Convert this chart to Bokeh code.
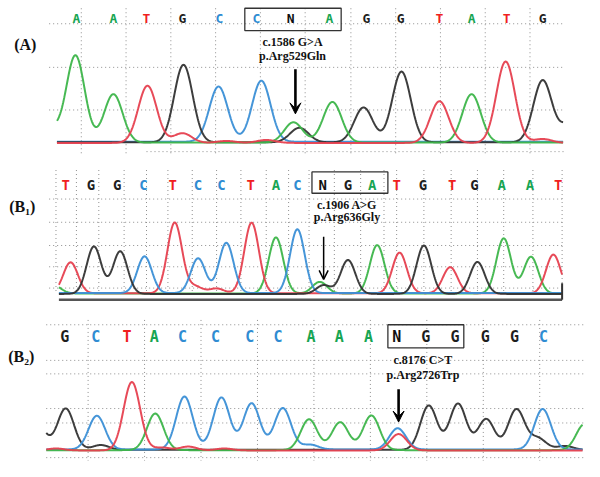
import numpy as np
from bokeh.plotting import figure
from bokeh.layouts import column
from bokeh.models import Range1d, Arrow, VeeHead, OpenHead
from bokeh.core.properties import value
from bokeh.embed import file_html
from bokeh.resources import INLINE

# ---------------- data ----------------
# Panel A
seq_a = "AATGCCNAGGTATG"
pos_a = [78, 116, 150, 187, 225, 263, 298, 338, 376, 411, 451, 484, 520, 557]
peaks_a_A = [(48, 18), (77, 90), (116, 50), (301, 21), (341, 42), (484, 50)]
peaks_a_C = [(224, 57), (268, 63)]
peaks_a_G = [(188, 80), (307, 15), (373, 36), (412, 73), (557, 64), (585, 20)]
peaks_a_T = [(151, 59), (187, 10), (232, 2), (273, 3), (451, 43), (519, 84), (557, 4)]
label_a = "(A)"
mut_a = ["c.1586 G>A", "p.Arg529Gln"]

# Panel B1
seq_b1 = "TGGCTCCTACNGATGTGAAT"
pos_b1 = [67, 93, 120, 147, 177, 203, 227, 257, 283, 305, 331, 357, 382, 407, 434, 464, 487, 515, 544, 573]
peaks_b1_A = [(55, 8), (283, 58), (328, 12), (387, 50), (517, 57), (545, 38)]
peaks_b1_C = [(148, 38), (203, 36), (232, 52), (305, 66)]
peaks_b1_G = [(96, 49), (123, 44), (332, 9), (357, 35), (435, 50), (490, 33)]
peaks_b1_T = [(72, 32), (179, 73), (200, 7), (222, 5), (258, 73), (410, 42), (462, 27), (568, 40)]
label_b1 = "(B\u2081)"
mut_b1 = ["c.1906 A>G", "p.Arg636Gly"]

# Panel B2
seq_b2 = "GCTACCCCAAANGGGGC"
pos_b2 = [66, 98, 130, 158, 187, 221, 256, 285, 319, 348, 378, 407, 437, 467, 498, 528, 558]
peaks_b2_A = [(159, 38), (317, 32), (349, 29), (381, 36), (600, 27)]
peaks_b2_C = [(99, 35), (189, 55), (227, 54), (258, 48), (290, 43), (318, 5), (408, 22), (557, 42)]
peaks_b2_G = [(38, 26), (67, 43), (103, 5), (440, 46), (470, 48), (499, 32), (530, 42), (552, 12), (580, 4)]
peaks_b2_T = [(57, 2), (135, 71), (166, 3), (193, 4), (230, 2), (409, 17)]
label_b2 = "(B\u2082)"
mut_b2 = ["c.8176 C>T", "p.Arg2726Trp"]

# ---------------- styling / layout ----------------
TRACE = {"A": "#3db54a", "C": "#3b8fd6", "G": "#333333", "T": "#e6404f"}
LETTER = {"A": "#17a552", "C": "#2f8cd2", "G": "#1e1e1e", "T": "#f0201e", "N": "#111111"}
DOT = "#8f8f8f"
W = 584

panels = [
    dict(top=0, bottom=160, base=147, height=155, seq=seq_a, pos=pos_a,
         peaks={"A": peaks_a_A, "C": peaks_a_C, "G": peaks_a_G, "T": peaks_a_T},
         order=["C", "G", "A", "T"], offs={"C": 1.2, "G": 0.6, "A": 0.3, "T": 0.0},
         sigma=9.5, xr=(58, 578), letter_y=19, letter_size="13px",
         box=(251, 350, 8, 31), label=label_a, label_x=14, label_y=45,
         mut=mut_a, mut_x=300, mut_y=(43, 57), arrow=(303, 71, 117), head="vee", aw=2.6,
         vgrid=[83, 129, 175, 221, 267, 313, 360, 406, 452, 498, 544], vspan=(8, 158),
         hgrid=[(24, 50), (69, 50), (113, 50), (156, 150)], hx1=580, axis=None),
    dict(top=160, bottom=315, base=303, height=150, seq=seq_b1, pos=pos_b1,
         peaks={"A": peaks_b1_A, "C": peaks_b1_C, "G": peaks_b1_G, "T": peaks_b1_T},
         order=["A", "T", "C", "G"], offs={"C": 0.8, "G": 0.0, "A": 0.4, "T": 0.6},
         sigma=7.5, xr=(60, 577), letter_y=190, letter_size="14px",
         box=(320, 398, 177, 199), label=label_b1, label_x=9, label_y=213,
         mut=mut_b1, mut_x=356, mut_y=(211, 224), arrow=(332, 244, 288), head="open", aw=1.5,
         vgrid=[57, 78, 101, 127, 150, 172, 197, 222, 247, 273, 296, 317, 343, 370, 394, 407,
                435, 463, 490, 517, 547, 577], vspan=(175, 303),
         hgrid=[(205, 50), (229, 50), (253, 50), (275, 50), (297, 50)], hx1=580, axis=309),
    dict(top=315, bottom=477, base=465.5, height=156, seq=seq_b2, pos=pos_b2,
         peaks={"A": peaks_b2_A, "C": peaks_b2_C, "G": peaks_b2_G, "T": peaks_b2_T},
         order=["G", "C", "A", "T"], offs={"C": 1.0, "G": 0.6, "A": 0.3, "T": 0.0},
         sigma=8.5, xr=(47, 598), letter_y=348, letter_size="15px",
         box=(398, 476, 335, 359), label=label_b2, label_x=8, label_y=368,
         mut=mut_b2, mut_x=434, mut_y=(372, 387), arrow=(409, 402, 436), head="vee", aw=2.6,
         vgrid=[90, 148, 206, 264, 322, 380, 438, 496, 554], vspan=(330, 476),
         hgrid=[(335, 47), (372, 47), (386, 47), (422, 47), (437, 47), (473, 47)], hx1=600, axis=None),
]


def make_panel(c):
    base = c["base"]
    ry = lambda yref: base - yref
    p = figure(width=W, height=c["height"], x_range=Range1d(0, 600),
               y_range=Range1d(base - c["bottom"], base - c["top"]),
               output_backend="svg", toolbar_location=None,
               x_axis_location=None, y_axis_location=None, min_border=0,
               outline_line_color=None, background_fill_color="white",
               border_fill_color="white")
    p.grid.visible = False

    # dotted grid
    vx = c["vgrid"]
    p.multi_line(xs=[[v, v] for v in vx],
                 ys=[[ry(c["vspan"][0]), ry(c["vspan"][1])] for _ in vx],
                 line_color=DOT, line_dash="1 3", line_width=1)
    p.multi_line(xs=[[x0, c["hx1"]] for (_, x0) in c["hgrid"]],
                 ys=[[ry(y), ry(y)] for (y, _) in c["hgrid"]],
                 line_color=DOT, line_dash="1 3", line_width=1)

    # traces
    x = np.linspace(c["xr"][0], c["xr"][1], 900)
    s = c["sigma"]
    for ch in c["order"]:
        y = np.full_like(x, c["offs"][ch])
        for mu, h in c["peaks"][ch]:
            y = y + h * np.exp(-((x - mu) ** 2) / (2 * s * s))
        p.line(x, y, line_color=TRACE[ch], line_width=2, line_alpha=0.95)

    if c["axis"] is not None:
        p.line([c["xr"][0], c["xr"][1]], [ry(c["axis"]), ry(c["axis"])],
               line_color="#555555", line_width=2.5)
        p.line([c["xr"][1], c["xr"][1]], [ry(c["axis"]), ry(c["axis"] - 17)],
               line_color="#333333", line_width=2)

    # base letters
    seq = list(c["seq"])
    p.text(x=c["pos"], y=[ry(c["letter_y"])] * len(seq), text=seq,
           text_color=[LETTER[b] for b in seq], text_font=value("DejaVu Sans Mono"),
           text_font_style="bold", text_font_size=c["letter_size"],
           text_align="center", text_baseline="middle")

    # box around the mutated codon
    l, r, t, b = c["box"]
    p.quad(left=[l], right=[r], top=[ry(t)], bottom=[ry(b)], fill_color=None,
           line_color="#333333", line_width=1.3)

    # panel label
    p.text(x=[c["label_x"]], y=[ry(c["label_y"])], text=[c["label"]],
           text_font=value("Liberation Serif"), text_font_style="bold",
           text_font_size="16px", text_align="left", text_baseline="middle",
           text_color="#111111")

    # mutation annotation
    p.text(x=[c["mut_x"]] * 2, y=[ry(c["mut_y"][0]), ry(c["mut_y"][1])], text=c["mut"],
           text_font=value("Liberation Serif"), text_font_style="bold",
           text_font_size="12px", text_align="center", text_baseline="middle",
           text_color="#111111")

    ax, ay0, ay1 = c["arrow"]
    if c["head"] == "vee":
        head = VeeHead(size=11, fill_color="black", line_color="black", line_width=1)
    else:
        head = OpenHead(size=9, line_color="black", line_width=1.5)
    p.add_layout(Arrow(end=head, x_start=ax, y_start=ry(ay0), x_end=ax, y_end=ry(ay1),
                       line_color="black", line_width=c["aw"]))
    return p


figs = [make_panel(c) for c in panels]
layout = column(*figs, spacing=0)
open("out.html", "w").write(file_html(layout, INLINE))
